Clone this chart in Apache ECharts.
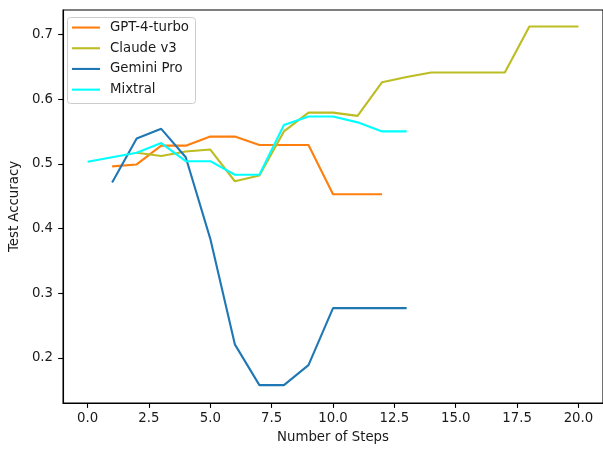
<!DOCTYPE html>
<html>
<head>
<meta charset="utf-8">
<script src="https://cdn.jsdelivr.net/npm/echarts@6/dist/echarts.min.js"></script>
<style>html,body{margin:0;padding:0;background:#fff}#c{width:603px;height:449px}</style>
</head>
<body>
<div id="c"></div>
<script>
const seriesNames = ['GPT-4-turbo', 'Claude v3', 'Gemini Pro', 'Mixtral'];
const seriesColors = ['#ff7f0e', '#bcbd22', '#1f77b4', '#00ffff'];
const gptSteps = [1,2,3,4,5,6,7,8,9,10,11,12];
const gptAcc = [0.496,0.499,0.528,0.528,0.542,0.542,0.529,0.529,0.529,0.453,0.453,0.453];
const claudeSteps = [2,3,4,5,6,7,8,9,10,11,12,13,14,15,16,17,18,19,20];
const claudeAcc = [0.517,0.512,0.519,0.522,0.473,0.482,0.550,0.579,0.579,0.574,0.626,0.634,0.641,0.641,0.641,0.641,0.712,0.712,0.712];
const geminiSteps = [1,2,3,4,5,6,7,8,9,10,11,12,13];
const geminiAcc = [0.471,0.539,0.554,0.510,0.384,0.221,0.158,0.158,0.189,0.277,0.277,0.277,0.277];
const mixtralSteps = [0,1,2,3,4,5,6,7,8,9,10,11,12,13];
const mixtralAcc = [0.503,0.510,0.517,0.532,0.504,0.504,0.483,0.483,0.560,0.573,0.573,0.564,0.550,0.550];
const xTicks = [0,2.5,5,7.5,10,12.5,15,17.5,20];
const yTicks = [0.2,0.3,0.4,0.5,0.6,0.7];

const pairs = (xs, ys) => xs.map((x, i) => [x, ys[i]]);
const allData = [pairs(gptSteps,gptAcc), pairs(claudeSteps,claudeAcc), pairs(geminiSteps,geminiAcc), pairs(mixtralSteps,mixtralAcc)];

const font = 'DejaVu Sans';
const fs = 13.3;
const txt = '#1a1a1a';
const chart = echarts.init(document.getElementById('c'), null, {renderer:'canvas'});
chart.setOption({
  animation: false,
  backgroundColor: '#fff',
  textStyle: {fontFamily: font},
  grid: {left: 60, top: 10, right: -3.5, bottom: 42.3, show: true, borderColor: '#000', borderWidth: 1.1, containLabel: false},
  graphic: [{
    type: 'rect', left: 67, top: 17, z: 10,
    shape: {width: 128, height: 86, r: 3},
    style: {fill: 'rgba(255,255,255,0.8)', stroke: '#cccccc', lineWidth: 1}
  }],
  legend: {
    orient: 'vertical', left: 72, top: 17.2, padding: 0, z: 20,
    itemWidth: 28, itemHeight: 2.1, itemGap: 0,
    icon: 'rect',
    textStyle: {fontFamily: font, fontSize: fs, color: txt, lineHeight: 20.7, padding: [0,0,0,5]},
    data: seriesNames
  },
  xAxis: {
    type: 'value', min: -1, max: 21,
    name: 'Number of Steps', nameLocation: 'middle', nameGap: 28,
    nameTextStyle: {fontFamily: font, fontSize: fs, color: txt},
    axisLine: {show: true, onZero: false, lineStyle: {color: '#000', width: 1.1}},
    axisTick: {show: true, length: 4.9, lineStyle: {color: '#000', width: 1.1}, customValues: xTicks},
    axisLabel: {fontFamily: font, fontSize: fs, color: txt, margin: 9, customValues: xTicks, formatter: v => v.toFixed(1)},
    splitLine: {show: false}
  },
  yAxis: {
    type: 'value', min: 0.1304, max: 0.7376,
    name: 'Test Accuracy', nameLocation: 'middle', nameGap: 35, nameRotate: 90,
    nameTextStyle: {fontFamily: font, fontSize: fs, color: txt},
    axisLine: {show: true, onZero: false, lineStyle: {color: '#000', width: 1.1}},
    axisTick: {show: true, length: 4.9, lineStyle: {color: '#000', width: 1.1}, customValues: yTicks},
    axisLabel: {fontFamily: font, fontSize: fs, color: txt, margin: 10, customValues: yTicks, formatter: v => v.toFixed(1)},
    splitLine: {show: false}
  },
  series: seriesNames.map((n, i) => ({
    name: n, type: 'line', data: allData[i], symbol: 'none',
    color: seriesColors[i],
    lineStyle: {color: seriesColors[i], width: 2.1},
    clip: true
  }))
});
</script>
</body>
</html>
